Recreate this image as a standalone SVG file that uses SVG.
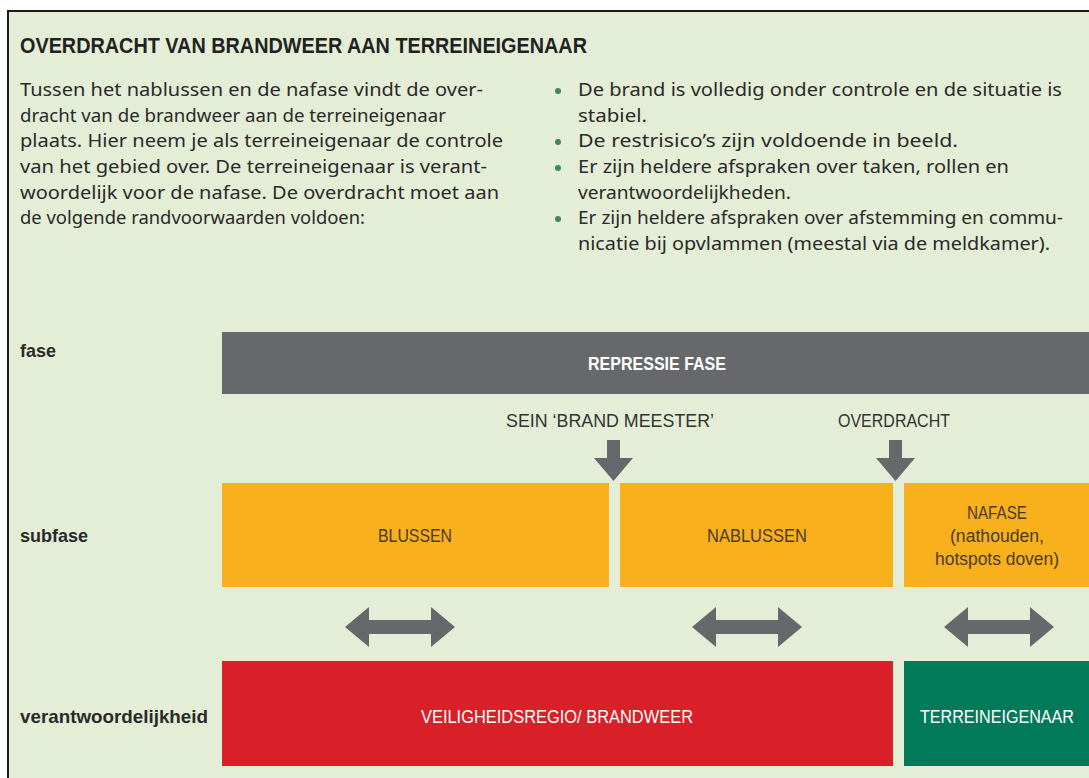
<svg xmlns="http://www.w3.org/2000/svg" width="1089" height="778" viewBox="0 0 1089 778">
<style>
.body{font-family:"Noto Sans","Liberation Sans",sans-serif;font-size:17.5px;fill:#2a2a2a}
.cond{font-family:"Liberation Sans Narrow","Liberation Sans",sans-serif;}
.lbl{font-family:"Liberation Sans Narrow","Liberation Sans",sans-serif;font-weight:bold;font-size:18.5px;fill:#2a2a2a}
.box-t{font-family:"Liberation Sans Narrow","Liberation Sans",sans-serif;font-size:17.5px;text-anchor:middle}
.arr{fill:#66686b}
</style>
<rect x="0" y="0" width="1089" height="778" fill="#ffffff"/>
<rect x="8" y="11" width="1081" height="767" fill="#e4edd6"/>
<line x1="7" y1="11" x2="1089" y2="11" stroke="#1a1a1a" stroke-width="2"/>
<line x1="8" y1="10" x2="8" y2="778" stroke="#1a1a1a" stroke-width="2"/>

<g id="title">
<text x="20" y="53" class="cond" font-weight="bold" font-size="22" fill="#222" textLength="567" lengthAdjust="spacingAndGlyphs">OVERDRACHT VAN BRANDWEER AAN TERREINEIGENAAR</text>
</g>

<g id="intro">
<text class="body" x="20" y="96" textLength="463" lengthAdjust="spacingAndGlyphs">Tussen het nablussen en de nafase vindt de over-</text>
<text class="body" x="20" y="122" textLength="426" lengthAdjust="spacingAndGlyphs">dracht van de brandweer aan de terreineigenaar</text>
<text class="body" x="20" y="147" textLength="483" lengthAdjust="spacingAndGlyphs">plaats. Hier neem je als terreineigenaar de controle</text>
<text class="body" x="20" y="173" textLength="467" lengthAdjust="spacingAndGlyphs">van het gebied over. De terreineigenaar is verant-</text>
<text class="body" x="20" y="199" textLength="479" lengthAdjust="spacingAndGlyphs">woordelijk voor de nafase. De overdracht moet aan</text>
<text class="body" x="20" y="224" textLength="345" lengthAdjust="spacingAndGlyphs">de volgende randvoorwaarden voldoen:</text>
</g>

<g id="conditions">
<g fill="#3b8a58">
<circle cx="558" cy="91" r="3"/>
<circle cx="558" cy="142" r="3"/>
<circle cx="558" cy="168" r="3"/>
<circle cx="558" cy="219" r="3"/>
</g>
<text class="body" x="578" y="96" textLength="484" lengthAdjust="spacingAndGlyphs">De brand is volledig onder controle en de situatie is</text>
<text class="body" x="578" y="122" textLength="69" lengthAdjust="spacingAndGlyphs">stabiel.</text>
<text class="body" x="578" y="147" textLength="380" lengthAdjust="spacingAndGlyphs">De restrisico’s zijn voldoende in beeld.</text>
<text class="body" x="578" y="173" textLength="431" lengthAdjust="spacingAndGlyphs">Er zijn heldere afspraken over taken, rollen en</text>
<text class="body" x="578" y="199" textLength="213" lengthAdjust="spacingAndGlyphs">verantwoordelijkheden.</text>
<text class="body" x="578" y="224" textLength="485" lengthAdjust="spacingAndGlyphs">Er zijn heldere afspraken over afstemming en commu-</text>
<text class="body" x="578" y="250" textLength="472" lengthAdjust="spacingAndGlyphs">nicatie bij opvlammen (meestal via de meldkamer).</text>
</g>

<g id="row-labels">
<text class="lbl" x="20" y="357" textLength="36" lengthAdjust="spacingAndGlyphs">fase</text>
<text class="lbl" x="20" y="542" textLength="68" lengthAdjust="spacingAndGlyphs">subfase</text>
<text class="lbl" x="20" y="723" textLength="188" lengthAdjust="spacingAndGlyphs">verantwoordelijkheid</text>
</g>

<g id="repressie-fase">
<rect x="222" y="332" width="867" height="62" fill="#66686b"/>
<text class="box-t" x="657" y="370" font-weight="bold" fill="#ffffff" textLength="138" lengthAdjust="spacingAndGlyphs">REPRESSIE FASE</text>
</g>

<g id="milestones">
<text class="box-t" x="610" y="427" fill="#333333" textLength="208" lengthAdjust="spacingAndGlyphs">SEIN ‘BRAND MEESTER’</text>
<text class="box-t" x="894" y="427" fill="#333333" textLength="112" lengthAdjust="spacingAndGlyphs">OVERDRACHT</text>
</g>

<g id="blussen">
<rect x="222" y="483" width="387" height="104" fill="#f8b01c"/>
<text class="box-t" x="415" y="542" fill="#4a3b26" textLength="74" lengthAdjust="spacingAndGlyphs">BLUSSEN</text>
</g>
<g id="nablussen">
<rect x="620" y="483" width="273" height="104" fill="#f8b01c"/>
<text class="box-t" x="757" y="542" fill="#4a3b26" textLength="100" lengthAdjust="spacingAndGlyphs">NABLUSSEN</text>
</g>
<g id="nafase">
<rect x="904" y="483" width="185" height="104" fill="#f8b01c"/>
<text class="box-t" x="997" y="519" fill="#4a3b26" textLength="60" lengthAdjust="spacingAndGlyphs">NAFASE</text>
<text class="box-t" x="997" y="542" fill="#4a3b26" textLength="94" lengthAdjust="spacingAndGlyphs">(nathouden,</text>
<text class="box-t" x="997" y="565" fill="#4a3b26" textLength="124" lengthAdjust="spacingAndGlyphs">hotspots doven)</text>
</g>

<g id="veiligheidsregio">
<rect x="222" y="661" width="671" height="105" fill="#d91f27"/>
<text class="box-t" x="557" y="723" fill="#ffffff" textLength="272" lengthAdjust="spacingAndGlyphs">VEILIGHEIDSREGIO/ BRANDWEER</text>
</g>
<g id="terreineigenaar">
<rect x="904" y="661" width="185" height="105" fill="#007a58"/>
<text class="box-t" x="997" y="723" fill="#ffffff" textLength="154" lengthAdjust="spacingAndGlyphs">TERREINEIGENAAR</text>
</g>

<g id="connectors" class="arr">
<polygon points="607,440 620,440 620,458 633,458 613.5,481 594,458 607,458"/>
<polygon points="889,440 902,440 902,458 915,458 895.5,481 876,458 889,458"/>
<polygon points="345,627 369,607 369,620 431,620 431,607 455,627 431,647 431,634 369,634 369,647"/>
<polygon points="692,627 716,607 716,620 778,620 778,607 802,627 778,647 778,634 716,634 716,647"/>
<polygon points="944,627 968,607 968,620 1030,620 1030,607 1054,627 1030,647 1030,634 968,634 968,647"/>
</g>
</svg>
